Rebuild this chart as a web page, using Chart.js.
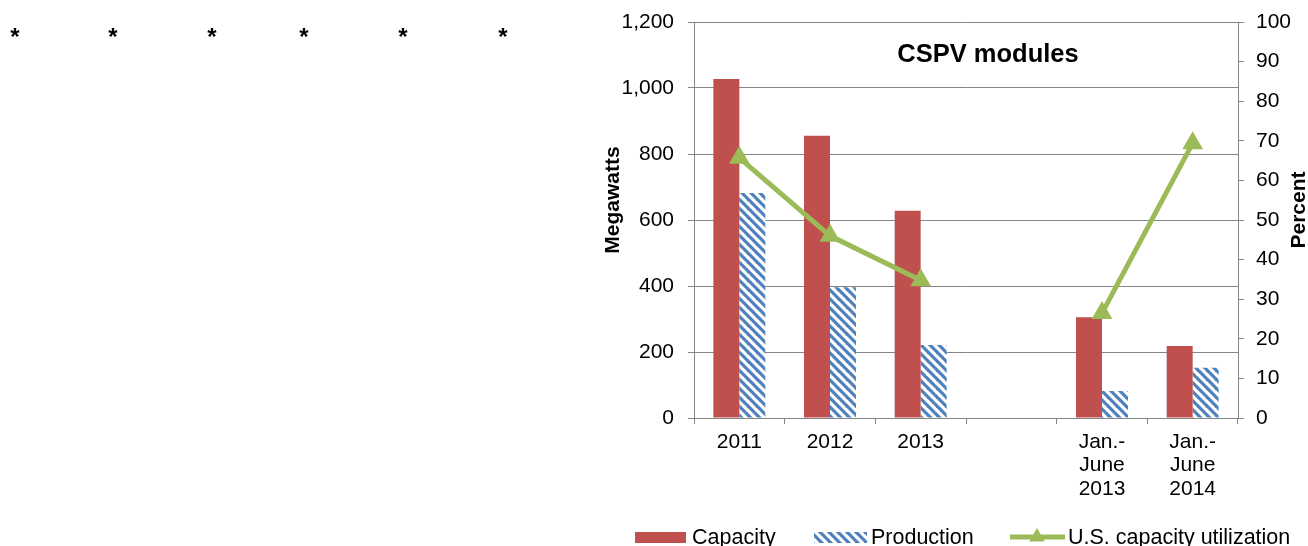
<!DOCTYPE html>
<html><head><meta charset="utf-8">
<script src="https://cdn.jsdelivr.net/npm/chart.js@4.4.1/dist/chart.umd.min.js"></script>
<style>html,body{margin:0;padding:0;background:#fff;overflow:hidden}#wrap{position:relative;width:1308px;height:546px}</style>
</head><body><div id="wrap"><canvas id="c" width="1308" height="546"></canvas></div>
<script>
const categories = ['2011', '2012', '2013', '', ['Jan.-', 'June', '2013'], ['Jan.-', 'June', '2014']];
const capacity = [1027, 855, 628, null, 305, 218];
const production = [682, 396, 221, null, 82, 152];
const utilization = [65.7, 46, 34.8, null, 26.5, 69.4];
const seriesNames = ['Capacity', 'Production', 'U.S. capacity utilization'];
const chartTitle = 'CSPV modules';
const leftAxisTitle = 'Megawatts';
const rightAxisTitle = 'Percent';
const asterisks = ['*', '*', '*', '*', '*', '*'];

const FONT = "'Liberation Sans', Arial, sans-serif";
const RED = '#C0504D', BLUE = '#4F81BD', GREEN = '#9BBB59', GRID = '#868686';

function makePattern() {
  const p = 9;
  const c = document.createElement('canvas');
  c.width = p; c.height = p;
  const x = c.getContext('2d');
  x.fillStyle = '#fff'; x.fillRect(0, 0, p, p);
  x.strokeStyle = BLUE; x.lineWidth = 3.2;
  for (let k = -1; k <= 1; k++) {
    x.beginPath();
    x.moveTo(k * p - 2, -2);
    x.lineTo(k * p + p + 2, p + 2);
    x.stroke();
  }
  return x.createPattern(c, 'repeat');
}
const ctx0 = document.getElementById('c').getContext('2d');
const stripe = makePattern();

Chart.defaults.font.family = FONT;
Chart.defaults.font.size = 21;
Chart.defaults.color = '#000';

const overlay = {
  id: 'overlay',
  afterDraw(chart) {
    const ctx = chart.ctx;
    ctx.save();
    ctx.fillStyle = '#000';
    // asterisks
    ctx.font = 'bold 24px ' + FONT;
    ctx.textAlign = 'center';
    ctx.textBaseline = 'alphabetic';
    const ax = [15, 113, 212, 304, 403, 503];
    asterisks.forEach((s, i) => ctx.fillText(s, ax[i], 45));
    // title
    ctx.font = 'bold 25.5px ' + FONT;
    ctx.textBaseline = 'middle';
    ctx.fillText(chartTitle, 988, 55);
    // axis titles
    ctx.font = 'bold 21px ' + FONT;
    ctx.save(); ctx.translate(613, 200); ctx.rotate(-Math.PI / 2); ctx.fillText(leftAxisTitle, 0, 0); ctx.restore();
    ctx.save(); ctx.translate(1299, 210); ctx.rotate(-Math.PI / 2); ctx.fillText(rightAxisTitle, 0, 0); ctx.restore();
    // legend
    const ly = 537;
    ctx.font = '21.5px ' + FONT;
    ctx.textAlign = 'left';
    ctx.fillStyle = RED; ctx.fillRect(635, ly - 5, 51, 11);
    ctx.fillStyle = stripe; ctx.fillRect(814, ly - 5, 53, 11);
    ctx.strokeStyle = GREEN; ctx.lineWidth = 5;
    ctx.beginPath(); ctx.moveTo(1010, ly); ctx.lineTo(1065, ly); ctx.stroke();
    ctx.fillStyle = GREEN;
    const r = 9, cx = 1037, cy = ly;
    ctx.beginPath();
    ctx.moveTo(cx, cy - r); ctx.lineTo(cx + r * 0.866, cy + r / 2); ctx.lineTo(cx - r * 0.866, cy + r / 2);
    ctx.closePath(); ctx.fill();
    ctx.fillStyle = '#000';
    ctx.fillText(seriesNames[0], 692, ly + 1);
    ctx.fillText(seriesNames[1], 871, ly + 1);
    ctx.fillText(seriesNames[2], 1068, ly + 1);
    ctx.restore();
  }
};

new Chart(ctx0, {
  data: {
    labels: categories,
    datasets: [
      { type: 'line', label: seriesNames[2], data: utilization, yAxisID: 'y1', order: 0,
        borderColor: GREEN, backgroundColor: GREEN, borderWidth: 5, pointStyle: 'triangle',
        pointRadius: 12, pointBorderWidth: 0, pointBackgroundColor: GREEN, spanGaps: false, tension: 0 },
      { type: 'bar', label: seriesNames[0], data: capacity, yAxisID: 'y', order: 1,
        backgroundColor: RED, borderWidth: 0, categoryPercentage: 0.573, barPercentage: 1 },
      { type: 'bar', label: seriesNames[1], data: production, yAxisID: 'y', order: 2,
        backgroundColor: stripe, borderWidth: 0, categoryPercentage: 0.573, barPercentage: 1 }
    ]
  },
  options: {
    responsive: false,
    animation: false,
    devicePixelRatio: 1,
    layout: { padding: { left: 0, right: 0, top: 22, bottom: 0 } },
    plugins: { legend: { display: false }, tooltip: { enabled: false }, title: { display: false } },
    scales: {
      x: {
        offset: true,
        grid: { display: true, drawOnChartArea: false, offset: true, color: GRID, tickLength: 6, tickColor: GRID },
        border: { display: true, color: GRID, width: 1 },
        ticks: { padding: 6, maxRotation: 0, autoSkip: false, color: '#000', font: { lineHeight: 1.12 } },
        afterFit(s) { s.height = 128; s.paddingLeft = 0; s.paddingRight = 0; }
      },
      y: {
        position: 'left', min: 0, max: 1200,
        ticks: { stepSize: 200, padding: 14, color: '#000' },
        grid: { color: GRID, tickLength: 6, tickColor: GRID },
        border: { display: true, color: GRID, width: 1 },
        afterFit(s) { s.width = 694; s.paddingTop = 0; s.paddingBottom = 0; }
      },
      y1: {
        position: 'right', min: 0, max: 100,
        ticks: { stepSize: 10, padding: 12, color: '#000' },
        grid: { drawOnChartArea: false, tickLength: 6, color: GRID, tickColor: GRID },
        border: { display: true, color: GRID, width: 1 },
        afterFit(s) { s.width = 70; s.paddingTop = 0; s.paddingBottom = 0; }
      }
    }
  },
  plugins: [overlay]
});
</script>
</body></html>
